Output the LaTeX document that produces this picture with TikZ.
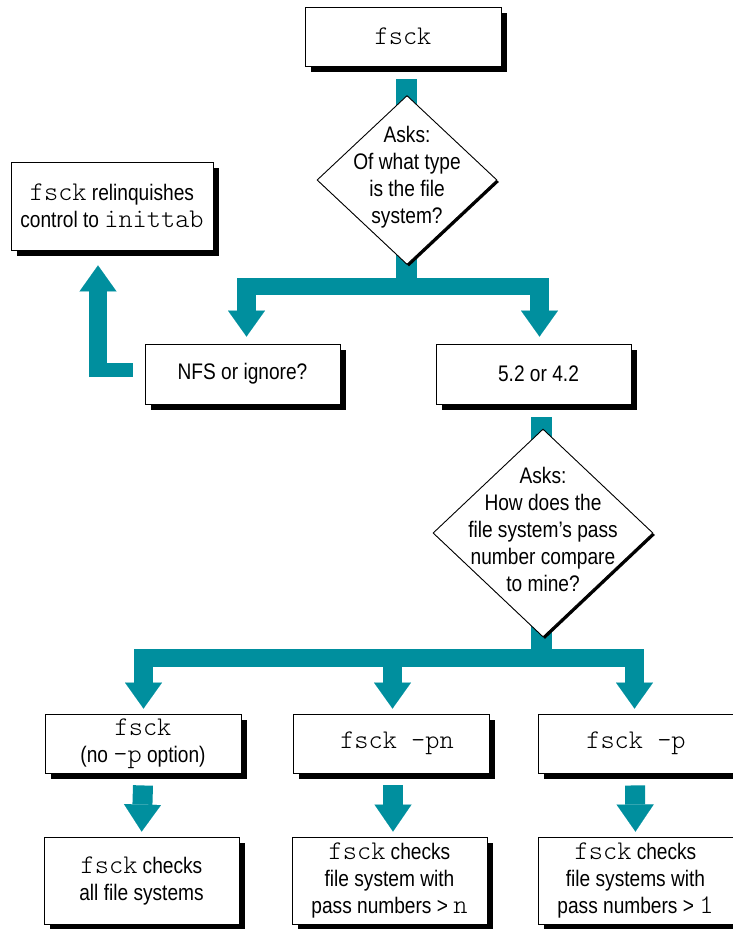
\documentclass[tikz,border=0pt]{standalone}
\usepackage{fontspec}
\setmainfont{Liberation Sans}[FakeStretch=0.85]
\setmonofont{Latin Modern Mono Light}[Scale=1.2]
\usetikzlibrary{shapes.geometric,shadows,arrows.meta,calc,backgrounds}
\definecolor{tealc}{RGB}{0,143,158}
\begin{document}
\begin{tikzpicture}[x=1pt,y=-1pt,
  every node/.style={font=\fontsize{22.5}{27}\selectfont},
  box/.style={draw=black, line width=0.9pt, fill=white, align=center, inner sep=2pt,
    drop shadow={shadow xshift=6pt,shadow yshift=-6pt,fill=black,opacity=1}},
  sbox/.style={box, minimum width=196pt, minimum height=59pt},
  tbox/.style={box, minimum width=195pt, minimum height=87pt},
  dia/.style={diamond, draw=black, line width=0.9pt, fill=white, inner sep=0pt,
    drop shadow={shadow xshift=2pt,shadow yshift=-2pt,fill=black,opacity=1}},
  dtext/.style={align=center, inner sep=0pt},
  pipe/.style={draw=tealc, line cap=butt, line join=miter},
  tipped/.style={pipe, -{Triangle[length=26pt,width=37pt,line width=0.01pt]}},
  tipsmall/.style={pipe, -{Triangle[length=27pt,width=37pt,line width=0.01pt]}}
]
\useasboundingbox (0,0) rectangle (733,929);

% nodes
\node[sbox] (top) at (403,36.5) {\texttt{fsck}};
\node[dia, minimum width=180pt, minimum height=169pt] (d1) at (407,180) {};
\node[dtext] (d1t) at ($(d1.center)+(0,-3)$) {Asks:\\Of what type\\is the file\\system?};
\node[box, minimum width=202pt, minimum height=88pt] (relinq) at (112,206)
  {\texttt{fsck} relinquishes\\control to \texttt{inittab}};
\node[box, minimum width=195pt, minimum height=60pt] (nfs) at (242.5,374) {NFS or ignore?};
\node[box, minimum width=195pt, minimum height=60pt] (v52) at (533.5,374) {\hspace*{10pt}5.2 or 4.2};
\node[dia, minimum width=220pt, minimum height=208pt] (d2) at (543,533) {};
\node[dtext] (d2t) at ($(d2.center)+(0,-4)$) {Asks:\\How does the\\file system’s pass\\number compare\\to mine?};
\node[sbox] (b1) at (143,743.5) {\texttt{fsck}\\(no \texttt{-p} option)};
\node[sbox] (b2) at (391,743.5) {\hspace*{12pt}\texttt{fsck -pn}};
\node[sbox] (b3) at (636,743.5) {\texttt{fsck -p}};
\node[tbox] (c1) at (141.5,880.5) {\texttt{fsck} checks\\all file systems};
\node[tbox] (c2) at (389.5,880.5) {\texttt{fsck} checks\\file system with\\pass numbers > \texttt{n}};
\node[tbox] (c3) at (635.5,880.5) {\texttt{fsck} checks\\file systems with\\pass numbers > \texttt{1}};

% junction coordinates
\coordinate (j1) at (406.5,286.5);
\coordinate (a1) at (246.5,278);
\coordinate (a2) at (539.5,278);
\coordinate (j2) at (541.5,658);
\coordinate (k1) at (143.5,649);
\coordinate (k2) at (392.5,649);
\coordinate (k3) at (634.5,649);
\coordinate (lc) at (98,370);

\begin{scope}[on background layer]
  % first split
  \draw[pipe, line width=21pt] ($(top.south -| j1)+(0,13)$) -- (j1);
  \draw[pipe, line width=17pt] ($(a1 |- j1)+(-9.5,0)$) -- ($(a2 |- j1)+(9.5,0)$);
  \draw[tipped, line width=19pt, shorten >=7pt] (a1) -- (a1 |- nfs.north);
  \draw[tipped, line width=19pt, shorten >=7pt] (a2) -- (a2 |- v52.north);
  % L arrow to relinquish box
  \draw[pipe, line width=14pt] ($(nfs.west)+(-12,-4)$) -- ($(lc)+(-9,0)$);
  \draw[tipped, line width=18pt] ($(lc)+(0,7)$) -- ($(relinq.south -| lc)+(0,15)$);
  % second split
  \draw[pipe, line width=21pt] ($(v52.south -| j2)+(0,13)$) -- (j2);
  \draw[pipe, line width=18pt] ($(k1 |- j2)+(-9.5,0)$) -- ($(k3 |- j2)+(9.5,0)$);
  \draw[tipped, line width=19pt, shorten >=5pt] (k1) -- (k1 |- b1.north);
  \draw[tipped, line width=19pt, shorten >=5pt] (k2) -- (k2 |- b2.north);
  \draw[tipped, line width=19pt, shorten >=5pt] (k3) -- (k3 |- b3.north);
  % small arrows
  \draw[tipsmall, line width=20pt, shorten >=5pt] ($(b1.south)+(0,12)$) -- (c1.north);
  \draw[tipsmall, line width=20pt, shorten >=5pt] ($(b2.south)+(2,12)$) -- ($(c2.north)+(3.5,0)$);
  \draw[tipsmall, line width=20pt, shorten >=5pt] ($(b3.south)+(-1,12)$) -- (c3.north);
\end{scope}
\end{tikzpicture}
\end{document}
